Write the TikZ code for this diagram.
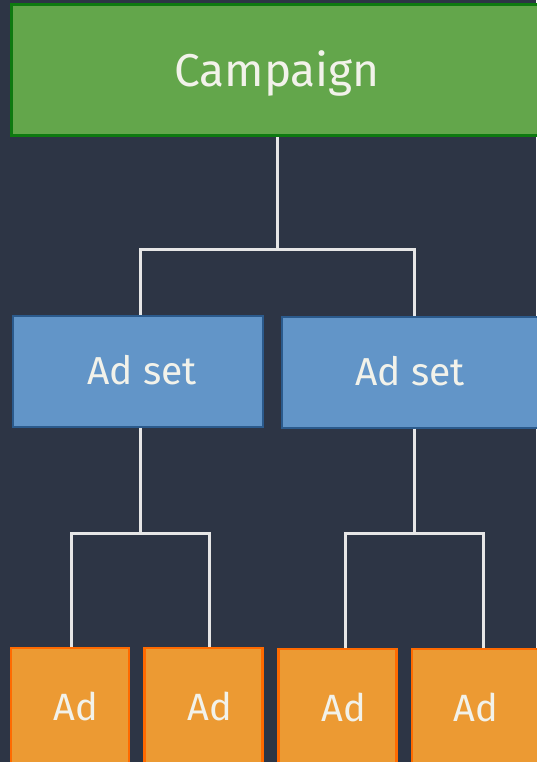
\documentclass[tikz,border=0pt]{standalone}
\usepackage{fontspec}
\setmainfont{Fira Sans}
\definecolor{bg}{HTML}{2D3545}
\definecolor{txt}{HTML}{F2F2EA}
\definecolor{campfill}{HTML}{63A64B}
\definecolor{campline}{HTML}{0E7A10}
\definecolor{setfill}{HTML}{6295C8}
\definecolor{setline}{HTML}{2B5A8C}
\definecolor{adfill}{HTML}{EC9A33}
\definecolor{adline}{HTML}{FF6A00}
\definecolor{linec}{HTML}{E6E6E6}
\begin{document}
\begin{tikzpicture}[x=1pt,y=1pt,
  box/.style={draw, rectangle, inner sep=0pt, text=txt, text depth=0pt},
  camp/.style={box, fill=campfill, draw=campline, line width=3pt, minimum width=532pt, minimum height=131pt, font=\fontsize{46}{52}\selectfont, text height=31.7pt},
  adset/.style={box, fill=setfill, draw=setline, line width=2pt, minimum width=250pt, minimum height=111pt, font=\fontsize{39}{44}\selectfont, text height=26.9pt, execute at begin node={\hspace*{8pt}}},
  ad/.style={box, fill=adfill, draw=adline, line width=2.5pt, minimum width=118pt, minimum height=118pt, font=\fontsize{38}{44}\selectfont, text height=26.2pt, execute at begin node={\hspace*{12pt}}},
  conn/.style={draw=linec, line width=3pt, line join=miter}]
\fill[bg] (0,0) rectangle (536,-762);
\useasboundingbox (0,0) rectangle (536,-762);
% boxes
\node[camp] (c) at (277,-70.5) {Campaign};
\node[adset] (s1) at (138,-371.5) {Ad set};
\node[adset, minimum width=264pt] (s2) at (414,-372) {\hspace*{-16pt}Ad set};
\node[ad] (a1) at (70,-707) {Ad};
\node[ad] (a2) at (203.5,-707) {Ad};
\node[ad] (a3) at (337.5,-708) {Ad};
\node[ad, minimum width=133pt] (a4) at (478.5,-708) {\hspace*{-17pt}Ad};
% junctions
\coordinate (j0) at (277,-249);
\coordinate (j0l) at (140,-249);
\coordinate (j0r) at (414,-249);
\coordinate (j1) at (140,-533);
\coordinate (j1l) at (71,-533);
\coordinate (j1r) at (209,-533);
\coordinate (j2) at (414,-533);
\coordinate (j2l) at (345,-533);
\coordinate (j2r) at (483,-533);
% connectors
\draw[conn] (c.south) -- (j0);
\draw[conn] (j0l |- s1.north) -- (j0l) -- (j0r) -- (j0r |- s2.north);
\draw[conn] (j1 |- s1.south) -- (j1);
\draw[conn] (j1l |- a1.north) -- (j1l) -- (j1r) -- (j1r |- a2.north);
\draw[conn] (j2 |- s2.south) -- (j2);
\draw[conn] (j2l |- a3.north) -- (j2l) -- (j2r) -- (j2r |- a4.north);
\end{tikzpicture}
\end{document}
